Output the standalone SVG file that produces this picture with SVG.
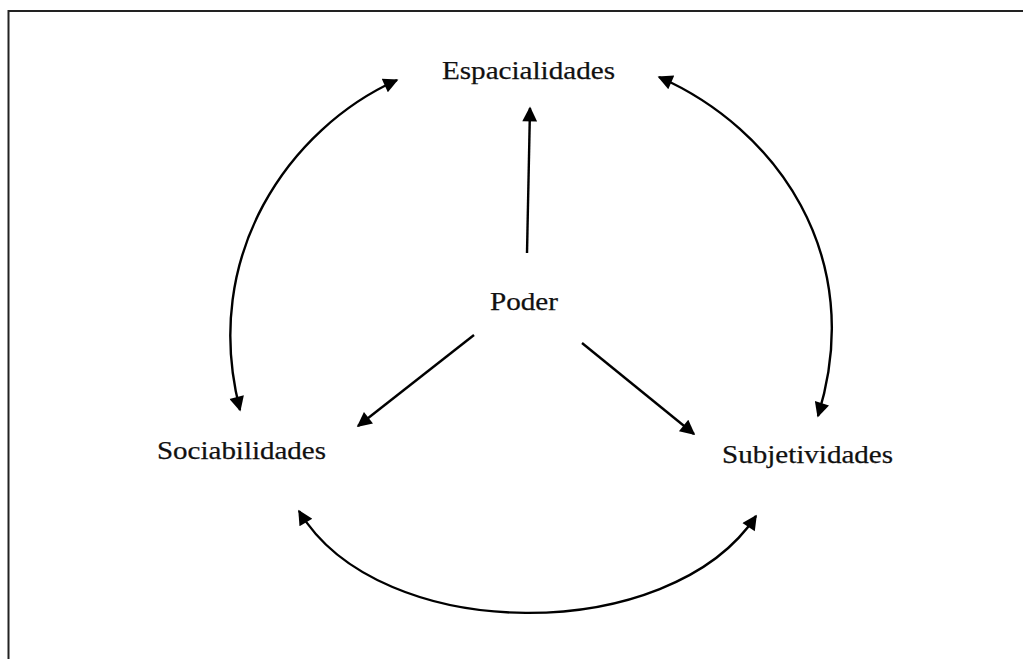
<svg xmlns="http://www.w3.org/2000/svg" width="1023" height="659" viewBox="0 0 1023 659">
  <style>
    .label { font-family: "Liberation Serif", "Times New Roman", serif; font-size: 26px; fill: #111; stroke: #111; stroke-width: 0.25; }
    .link { fill: none; stroke: #000; stroke-width: 2.4; }
    .frame { fill: none; stroke: #222; stroke-width: 2; }
  </style>
  <defs>
    <marker id="head" viewBox="0 0 10 10" refX="9" refY="5" markerWidth="7" markerHeight="6.2" markerUnits="strokeWidth" orient="auto-start-reverse">
      <path d="M0,0 L10,5 L0,10 Z" fill="#000"/>
    </marker>
  </defs>
  <rect width="1023" height="659" fill="#fff"/>
  <!-- outer frame: only the top and left edges fall inside the page -->
  <path class="frame" d="M8.5,659 L8.5,11 L1023,11"/>

  <g id="connectors">
    <!-- power radiating outward -->
    <path class="link" marker-end="url(#head)" d="M527,253 L530,108"/>
    <path class="link" marker-end="url(#head)" d="M474,335 L358,426"/>
    <path class="link" marker-end="url(#head)" d="M582,343 L694,434"/>
    <!-- two-way relations between the three outer terms -->
    <path class="link" marker-start="url(#head)" marker-end="url(#head)" d="M397,80 C290,128 200,255 240,410"/>
    <path class="link" marker-start="url(#head)" marker-end="url(#head)" d="M659,77 C775,128 868,255 818,416"/>
    <path class="link" marker-start="url(#head)" marker-end="url(#head)" d="M299,511 C380,646 670,646 756,516"/>
  </g>

  <g id="node-espacialidades">
    <text class="label" x="442" y="79" textLength="173" lengthAdjust="spacingAndGlyphs">Espacialidades</text>
  </g>
  <g id="node-poder">
    <text class="label" x="490" y="310" textLength="68" lengthAdjust="spacingAndGlyphs">Poder</text>
  </g>
  <g id="node-sociabilidades">
    <text class="label" x="157" y="459" textLength="169" lengthAdjust="spacingAndGlyphs">Sociabilidades</text>
  </g>
  <g id="node-subjetividades">
    <text class="label" x="722" y="463" textLength="171" lengthAdjust="spacingAndGlyphs">Subjetividades</text>
  </g>
</svg>
